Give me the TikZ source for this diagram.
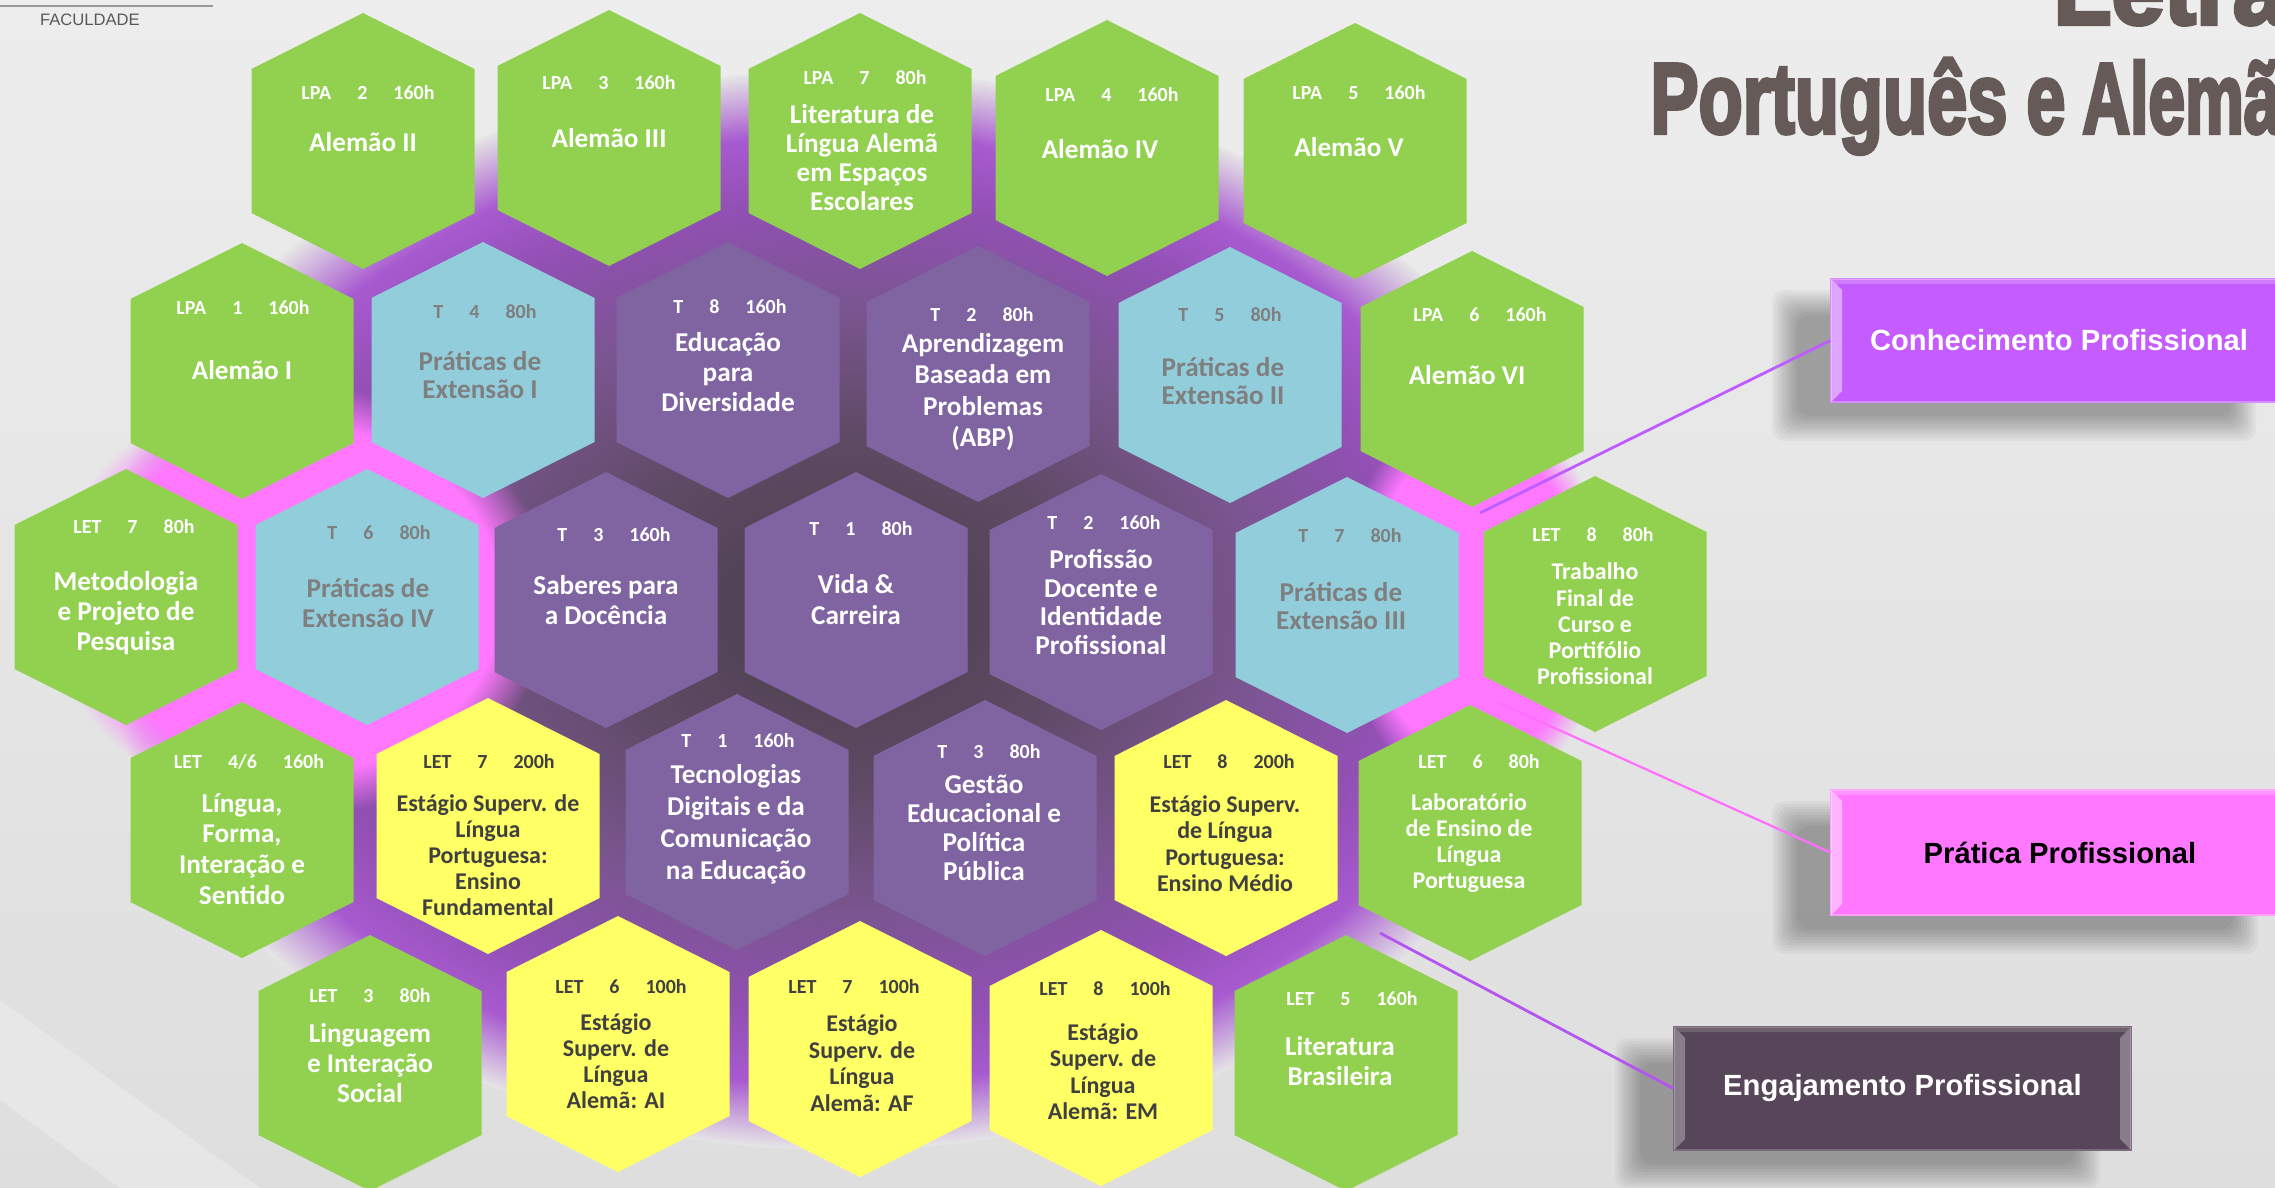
\documentclass[tikz,border=0pt]{standalone}
\usepackage{graphicx}
\usepackage{fontspec}
\usetikzlibrary{fadings}
\setmainfont{Carlito}
\newfontfamily\arialf{Liberation Sans}
\newfontfamily\titlef[BoldFeatures={FakeBold=4}]{Liberation Sans}
\definecolor{hgreen}{HTML}{92D050}
\definecolor{hblue}{HTML}{92CDDC}
\definecolor{hpurple}{HTML}{8064A2}
\definecolor{hyellow}{HTML}{FFFF66}
\definecolor{tgray}{HTML}{7F7F7F}
\definecolor{tdark}{HTML}{404040}
\definecolor{ttitle}{HTML}{655A58}
\definecolor{bconh}{HTML}{C45CFF}
\definecolor{bprat}{HTML}{FF78FF}
\definecolor{beng}{HTML}{574659}
\definecolor{bgtop}{HTML}{EDEDED}
\definecolor{bgbot}{HTML}{DEDEDE}
\definecolor{bgmid}{HTML}{E6E6E6}
\definecolor{dkc}{HTML}{4A3E4C}
\definecolor{dkc2}{HTML}{5E4A64}
\definecolor{midc}{HTML}{7A5590}
\definecolor{vioc}{HTML}{9250B4}
\definecolor{vioc2}{HTML}{A85AD0}
\definecolor{pinkc}{HTML}{FF78FF}
\definecolor{lconh}{HTML}{BF5CFF}
\definecolor{lprat}{HTML}{FF6EFF}
\definecolor{leng}{HTML}{B455F0}
\pgfdeclareradialshading{discshade}{\pgfpoint{0bp}{0bp}}{color(0bp)=(dkc); color(8bp)=(dkc2); color(14bp)=(midc); color(19bp)=(vioc); color(22bp)=(vioc2); color(25bp)=(bgmid); color(50bp)=(bgmid)}
\newcommand\hg{\hskip 13pt\relax}
\newcommand\hexcell[4]{%
  \fill[#4] ({#2-111.5},{#3-72}) -- (#2,{#3-128}) -- ({#2+111.5},{#3-72}) -- ({#2+111.5},{#3+72}) -- (#2,{#3+128}) -- ({#2-111.5},{#3+72}) -- cycle;
  \coordinate (#1) at (#2,#3);}
\newcommand\softshadow[4]{\foreach \k in {0,...,9}{\fill[black,opacity=0.034,rounded corners=6pt] ({#1-14+2.8*\k},{#2-14+2.8*\k}) rectangle ({#3+14-2.8*\k},{#4+14-2.8*\k});}}
\newcommand\ttl[2]{\scalebox{#1}[1]{\titlef\bfseries\fontsize{50}{52}\selectfont #2}}
\tikzset{
  hdr/.style={inner sep=0pt, font=\fontsize{10}{12}\selectfont\bfseries},
  bt/.style={inner sep=0pt, align=center, font=\fontsize{13.6}{#1}\selectfont\bfseries},
  bt/.default=15,
  st/.style={inner sep=0pt, align=center, font=\fontsize{12}{#1}\selectfont\bfseries},
  st/.default=13.2,
  onw/.style={text=white},
  ong/.style={text=tgray},
  ond/.style={text=tdark},
  boxs/.style={rectangle, inner sep=0pt, font=\fontsize{14.6}{16}\selectfont\arialf\bfseries},
  conline/.style={line width=1.4pt},
  ttlnode/.style={anchor=base west, inner sep=0pt, text=ttitle}
}
\begin{document}
\begin{tikzpicture}[x=0.5pt,y=-0.5pt]
\useasboundingbox (0,0) rectangle (2275,1188);
\begin{scope}
\clip (0,0) rectangle (2275,1188);
% background
\shade[top color=bgtop, bottom color=bgbot] (0,0) rectangle (2275,1188);
\fill[white,opacity=0.25] (0,1000) -- (260,1188) -- (120,1188) -- (0,1100) -- cycle;
% purple disc with pink sides
\shade[shading=discshade] (840,610) ellipse (740 and 540);
\fill[pinkc, path fading=circle with fuzzy edge 20 percent] (300,600) ellipse (250 and 215);
\fill[pinkc, path fading=circle with fuzzy edge 20 percent] (1475,600) ellipse (135 and 195);
% header
\draw[gray!80, line width=0.8pt] (0,6) -- (213,6);
\node[font=\fontsize{8.3}{10}\selectfont\arialf, text=black!65, inner sep=0pt] (fac) at (90,19.5) {FACULDADE};
\node[ttlnode] (title1) at (2053,24) {\ttl{0.95}{Letras}};
\node[ttlnode] (title2a) at (1650,133) {\ttl{0.722}{Português}};
\node[ttlnode] (title2b) at (2026,133) {\ttl{0.70}{e}};
\node[ttlnode] (title2c) at (2082,133) {\ttl{0.66}{Alemão}};

% ---------- row 1
\hexcell{A2}{363}{141}{hgreen}
\node[hdr,onw] (A2h) at (368,93) {LPA\hg 2\hg 160h};
\node[bt,onw] (A2t) at (363,142) {Alemão II};
\hexcell{A3}{609}{138}{hgreen}
\node[hdr,onw] (A3h) at (609,83) {LPA\hg 3\hg 160h};
\node[bt,onw] (A3t) at (609,138) {Alemão III};
\hexcell{LIT}{860}{141}{hgreen}
\node[hdr,onw] (LITh) at (865,78) {LPA\hg 7\hg 80h};
\node[bt=14.5,onw] (LITt) at (862,158) {Literatura de\\Língua Alemã\\em Espaços\\Escolares};
\hexcell{A4}{1107}{148}{hgreen}
\node[hdr,onw] (A4h) at (1112,95) {LPA\hg 4\hg 160h};
\node[bt,onw] (A4t) at (1100,149) {Alemão IV};
\hexcell{A5}{1355}{151}{hgreen}
\node[hdr,onw] (A5h) at (1359,93) {LPA\hg 5\hg 160h};
\node[bt,onw] (A5t) at (1349,147) {Alemão V};

% ---------- row 2
\hexcell{A1}{242}{371}{hgreen}
\node[hdr,onw] (A1h) at (243,308) {LPA\hg 1\hg 160h};
\node[bt,onw] (A1t) at (242,370) {Alemão I};
\hexcell{P1}{483}{370}{hblue}
\node[hdr,ong] (P1h) at (485,312) {T\hg 4\hg 80h};
\node[bt=14,ong] (P1t) at (480,375) {Práticas de\\Extensão I};
\hexcell{EDU}{728}{370}{hpurple}
\node[hdr,onw] (EDUh) at (730,307) {T\hg 8\hg 160h};
\node[bt=15,onw] (EDUt) at (728,372) {Educação\\para\\Diversidade};
\hexcell{APR}{978}{374}{hpurple}
\node[hdr,onw] (APRh) at (982,315) {T\hg 2\hg 80h};
\node[bt=15.6,onw] (APRt) at (983,392) {Aprendizagem\\Baseada em\\Problemas\\(ABP)};
\hexcell{P2}{1230}{375}{hblue}
\node[hdr,ong] (P2h) at (1230,315) {T\hg 5\hg 80h};
\node[bt=14,ong] (P2t) at (1223,381) {Práticas de\\Extensão II};
\hexcell{A6}{1472}{379}{hgreen}
\node[hdr,onw] (A6h) at (1480,315) {LPA\hg 6\hg 160h};
\node[bt,onw] (A6t) at (1467,375) {Alemão VI};

% ---------- row 3
\hexcell{MET}{126}{597}{hgreen}
\node[hdr,onw] (METh) at (134,527) {LET\hg 7\hg 80h};
\node[bt=15,onw] (METt) at (126,613) {Metodologia\\e Projeto de\\Pesquisa};
\hexcell{P4}{367}{597}{hblue}
\node[hdr,ong] (P4h) at (379,533) {T\hg 6\hg 80h};
\node[bt=15,ong] (P4t) at (368,603) {Práticas de\\Extensão IV};
\hexcell{SAB}{606}{600}{hpurple}
\node[hdr,onw] (SABh) at (614,535) {T\hg 3\hg 160h};
\node[bt=15,onw] (SABt) at (606,600) {Saberes para\\a Docência};
\hexcell{VIDA}{856}{600}{hpurple}
\node[hdr,onw] (VIDAh) at (861,529) {T\hg 1\hg 80h};
\node[bt=15.5,onw] (VIDAt) at (856,600) {Vida \&\\Carreira};
\hexcell{PROF}{1101}{602}{hpurple}
\node[hdr,onw] (PROFh) at (1104,523) {T\hg 2\hg 160h};
\node[bt=14.4,onw] (PROFt) at (1101,602) {Profissão\\Docente e\\Identidade\\Profissional};
\hexcell{P3}{1347}{605}{hblue}
\node[hdr,ong] (P3h) at (1350,536) {T\hg 7\hg 80h};
\node[bt=14,ong] (P3t) at (1341,606) {Práticas de\\Extensão III};
\hexcell{TRAB}{1595}{604}{hgreen}
\node[hdr,onw] (TRABh) at (1593,535) {LET\hg 8\hg 80h};
\node[st=13.1,onw] (TRABt) at (1595,624) {Trabalho\\Final de\\Curso e\\Portifólio\\Profissional};

% ---------- row 4
\hexcell{LIN}{242}{830}{hgreen}
\node[hdr,onw] (LINh) at (249,762) {LET\hg 4/6\hg 160h};
\node[bt=15.3,onw] (LINt) at (242,849) {Língua,\\Forma,\\Interação e\\Sentido};
\hexcell{EEF}{488}{826}{hyellow}
\node[hdr,ond] (EEFh) at (489,762) {LET\hg 7\hg 200h};
\node[st=13,ond] (EEFt) at (488,855) {Estágio Superv. de\\Língua\\Portuguesa:\\Ensino\\Fundamental};
\hexcell{TEC}{737}{822}{hpurple}
\node[hdr,onw] (TECh) at (738,741) {T\hg 1\hg 160h};
\node[bt=16,onw] (TECt) at (736,824) {Tecnologias\\Digitais e da\\Comunicação\\na Educação};
\hexcell{GES}{985}{828}{hpurple}
\node[hdr,onw] (GESh) at (989,752) {T\hg 3\hg 80h};
\node[bt=14.4,onw] (GESt) at (984,828) {Gestão\\Educacional e\\Política\\Pública};
\hexcell{EEM}{1226}{828}{hyellow}
\node[hdr,ond] (EEMh) at (1229,762) {LET\hg 8\hg 200h};
\node[st=13.2,ond] (EEMt) at (1225,843.5) {Estágio Superv.\\de Língua\\Portuguesa:\\Ensino Médio};
\hexcell{LAB}{1470}{833}{hgreen}
\node[hdr,onw] (LABh) at (1479,762) {LET\hg 6\hg 80h};
\node[st=13,onw] (LABt) at (1469,843) {Laboratório\\de Ensino de\\Língua\\Portuguesa};

% ---------- row 5
\hexcell{LING}{370}{1063}{hgreen}
\node[hdr,onw] (LINGh) at (370,996) {LET\hg 3\hg 80h};
\node[bt=15,onw] (LINGt) at (370,1063) {Linguagem\\e Interação\\Social};
\hexcell{EAI}{618}{1044}{hyellow}
\node[hdr,ond] (EAIh) at (621,987) {LET\hg 6\hg 100h};
\node[st=13,ond] (EAIt) at (616,1061) {Estágio\\Superv. de\\Língua\\Alemã: AI};
\hexcell{EAF}{860}{1049}{hyellow}
\node[hdr,ond] (EAFh) at (854,987) {LET\hg 7\hg 100h};
\node[st=13.3,ond] (EAFt) at (862,1063) {Estágio\\Superv. de\\Língua\\Alemã: AF};
\hexcell{EAM}{1101}{1058}{hyellow}
\node[hdr,ond] (EAMh) at (1105,989) {LET\hg 8\hg 100h};
\node[st=13.2,ond] (EAMt) at (1103,1071.5) {Estágio\\Superv. de\\Língua\\Alemã: EM};
\hexcell{LB}{1346}{1063}{hgreen}
\node[hdr,onw] (LBh) at (1352,999) {LET\hg 5\hg 160h};
\node[bt=15,onw] (LBt) at (1340,1061) {Literatura\\Brasileira};

% ---------- shadows
\softshadow{1786}{304}{2242}{427}
\softshadow{1786}{815}{2244}{940}
\softshadow{1629}{1052}{2086}{1175}

% ---------- boxes
\node[boxs, fill=bconh, draw=bconh!70!white, line width=0.6pt, minimum width=228pt, minimum height=61.5pt, text=white] (conh) at (2059,340.5) {Conhecimento Profissional};
\fill[white,opacity=0.45] (1831,279) -- (1842,290) -- (1842,391) -- (1831,402) -- cycle;
\fill[white,opacity=0.2] (1831,279) -- (2287,279) -- (2287,284) -- (1836,284) -- cycle;
\node[boxs, fill=bprat, draw=bprat!70!white, line width=0.6pt, minimum width=229pt, minimum height=62.5pt, text=black] (prat) at (2060,852.5) {Prática Profissional};
\fill[white,opacity=0.45] (1831,790) -- (1842,801) -- (1842,904) -- (1831,915) -- cycle;
\fill[white,opacity=0.2] (1831,790) -- (2289,790) -- (2289,795) -- (1836,795) -- cycle;
\node[boxs, fill=beng, draw=beng!80!white, line width=0.6pt, minimum width=228.5pt, minimum height=61.5pt, text=white] (eng) at (1902.5,1088.5) {Engajamento Profissional};
\fill[white,opacity=0.3] (1674,1027) -- (1685,1038) -- (1685,1139) -- (1674,1150) -- cycle;
\fill[white,opacity=0.3] (2131,1027) -- (2120,1038) -- (2120,1139) -- (2131,1150) -- cycle;
\fill[white,opacity=0.15] (1674,1027) -- (2131,1027) -- (2126,1032) -- (1679,1032) -- cycle;

% ---------- connectors
\coordinate (conhEnd) at (1480,513);
\coordinate (pratEnd) at (1497,702);
\coordinate (engEnd) at (1380,933);
\draw[conline, lconh] (conh.west) -- (conhEnd);
\draw[conline, lprat, line width=1.1pt] (prat.west) -- (pratEnd);
\draw[conline, leng] (eng.west) -- (engEnd);
\end{scope}
\end{tikzpicture}
\end{document}
